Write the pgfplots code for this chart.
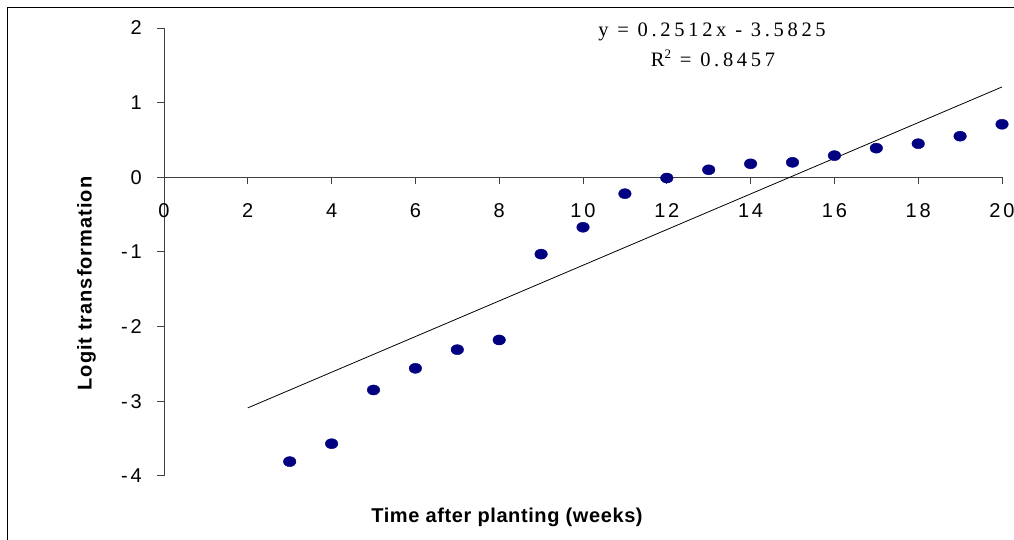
\documentclass[border=0pt]{standalone}
\usepackage{pgfplots}
\pgfplotsset{compat=1.18}
\usepackage{fontspec}
\setmainfont{Liberation Sans}
\newfontfamily\tickfont[LetterSpace=14]{Liberation Sans}
\newfontfamily\xlabfont[LetterSpace=3]{Liberation Sans}
\newfontfamily\ylabfont[LetterSpace=5]{Liberation Sans}
\newfontfamily\eqfont[LetterSpace=18]{Liberation Serif}
\definecolor{navy}{HTML}{000080}
\begin{document}
\begin{tikzpicture}[x=1pt,y=1pt]
\path[use as bounding box] (0,0) rectangle (1014,540);
\draw[black, line width=1.2pt] (7.5,0) -- (7.5,532.5) -- (1014,532.5);
\begin{axis}[
  at={(164pt,64.2pt)}, anchor=south west,
  scale only axis, width=838pt, height=447.8pt,
  xmin=0, xmax=20, ymin=-4, ymax=2,
  axis lines=middle,
  axis line style={black!75, line width=0.9pt, -},
  xtick={0,2,...,20}, ytick={-4,-3,-2,-1,0,1,2},
  xticklabels={0,2,4,6,8,10,12,14,16,18,20},
  yticklabels={-4,-3,-2,-1,0,1,2},
  hide obscured x ticks=false, hide obscured y ticks=false,
  major tick length=7pt,
  tick align=outside,
  tick style={black!75, line width=0.9pt},
  xticklabel style={font=\fontsize{20}{20}\selectfont\tickfont, anchor=north, inner sep=0pt, yshift=-19pt},
  yticklabel style={font=\fontsize{20}{20}\selectfont\tickfont, anchor=east, inner sep=0pt, xshift=-15pt},
  clip=false,
]
\addplot[black, line width=0.8pt] coordinates {(2,-3.09) (20,1.21)};
\addplot[only marks, mark=*, mark size=6.3pt, mark options={fill=navy, draw=navy, yscale=0.8}]
coordinates {
(3,-3.81) (4,-3.57) (5,-2.85) (6,-2.56) (7,-2.31) (8,-2.18)
(9,-1.03) (10,-0.67) (11,-0.22) (12,-0.01) (13,0.10) (14,0.18)
(15,0.20) (16,0.29) (17,0.39) (18,0.45) (19,0.55) (20,0.71)
};
\end{axis}
\node[anchor=base, inner sep=0pt, font=\fontsize{20}{20}\selectfont\bfseries\xlabfont] at (507,17.3) {Time after planting (weeks)};
\node[anchor=base, rotate=90, inner sep=0pt, font=\fontsize{20}{20}\selectfont\bfseries\ylabfont] at (91.7,256.5) {Logit transformation};
\node[anchor=base, inner sep=0pt, font=\fontsize{20.5}{20.5}\selectfont\eqfont] at (712,503) {y = 0.2512x - 3.5825};
\node[anchor=base, inner sep=0pt, font=\fontsize{20.5}{20.5}\selectfont\eqfont] at (713,473) {R\raisebox{0.42em}{\fontsize{13}{13}\selectfont 2} = 0.8457};
\end{tikzpicture}
\end{document}
